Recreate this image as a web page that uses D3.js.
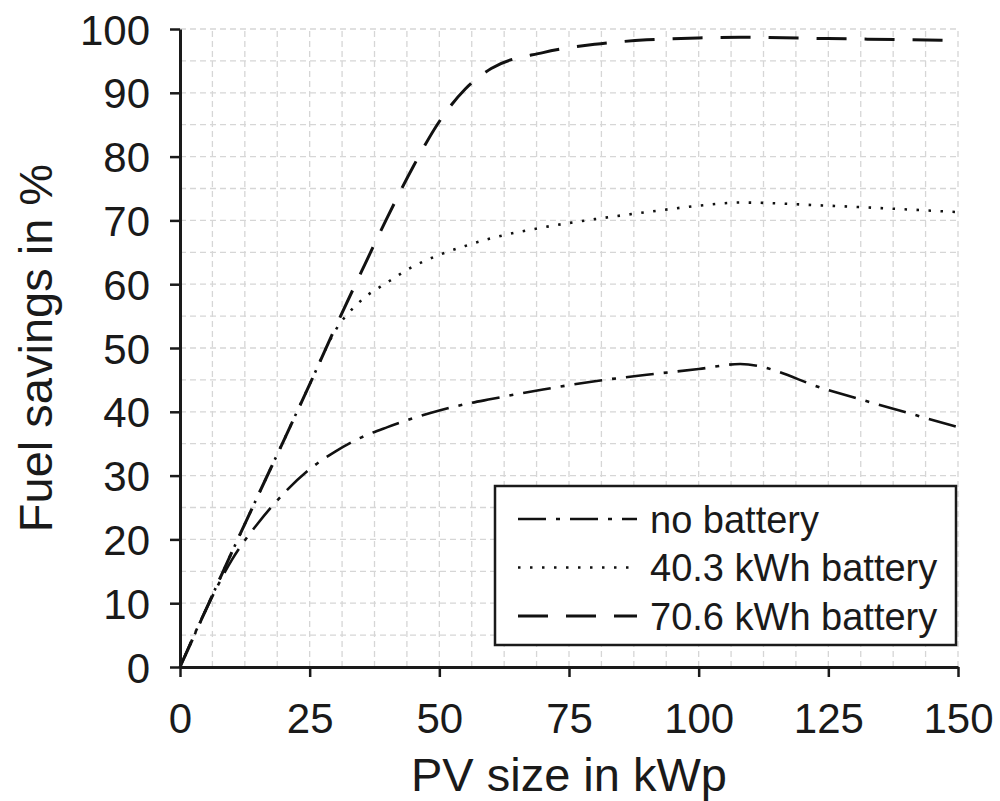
<!DOCTYPE html>
<html>
<head>
<meta charset="utf-8">
<script src="https://cdn.jsdelivr.net/npm/d3@7"></script>
<style>
  body { margin: 0; background: #fff; }
  text { font-family: "Liberation Sans", Arial, sans-serif; fill: #1a1a1a; }
</style>
</head>
<body>
<svg width="1000" height="801"></svg>
<script>
// PV size in kWp
var pvSize = [0, 5, 10, 15, 20, 25, 30, 35, 40, 45, 50, 55, 60, 70, 80, 90, 100, 108, 125, 150];

// fuel savings in %
var noBattery =  [0, 9, 16.8, 22.5, 27.2, 31, 33.8, 36, 37.6, 39, 40.2, 41.2, 42, 43.5, 44.8, 45.8, 46.7, 47.5, 43.4, 37.6];
var battery403 = [0, 9, 18, 26.8, 35.5, 44.3, 52.8, 57.5, 60.3, 62.8, 64.6, 66, 67.2, 68.9, 70.2, 71.3, 72.3, 72.8, 72.3, 71.3];
var battery706 = [0, 9, 18, 26.8, 35.5, 44.3, 53.3, 62, 70.5, 78.5, 85.5, 90.6, 93.8, 96.3, 97.6, 98.3, 98.6, 98.7, 98.5, 98.2];

var seriesNames = ["no battery", "40.3 kWh battery", "70.6 kWh battery"];
var xTicks = [0, 25, 50, 75, 100, 125, 150];
var yTicks = [0, 10, 20, 30, 40, 50, 60, 70, 80, 90, 100];

var svg = d3.select("svg"),
    plotLeft = 180, plotRight = 958, plotTop = 29, plotBottom = 667;

var x = d3.scaleLinear().domain([0, 150]).range([plotLeft, plotRight]),
    y = d3.scaleLinear().domain([0, 100]).range([plotBottom, plotTop]);

var series = [
  {name: seriesNames[0], values: noBattery,  dash: "28,10,4,10", width: 2.6},
  {name: seriesNames[1], values: battery403, dash: "2.5,9.5",    width: 2.6},
  {name: seriesNames[2], values: battery706, dash: "30,18",      width: 3}
];

// grid
var grid = svg.append("g").attr("stroke", "#d6d6d6").attr("stroke-width", 1.3)
    .attr("stroke-dasharray", "6,4");
grid.selectAll(".gx").data(d3.range(6.25, 150.1, 6.25)).enter().append("line")
    .attr("x1", function(d) { return x(d); }).attr("x2", function(d) { return x(d); })
    .attr("y1", y(0)).attr("y2", y(100));
grid.selectAll(".gy").data(d3.range(5, 100.1, 5)).enter().append("line")
    .attr("y1", function(d) { return y(d); }).attr("y2", function(d) { return y(d); })
    .attr("x1", x(0)).attr("x2", x(150));

var line = d3.line()
    .curve(d3.curveMonotoneX)
    .x(function(d, i) { return x(pvSize[i]); })
    .y(function(d) { return y(d); });

svg.selectAll(".series").data(series).enter().append("path")
    .attr("fill", "none")
    .attr("stroke", "#111")
    .attr("stroke-width", function(d) { return d.width; })
    .attr("stroke-dasharray", function(d) { return d.dash; })
    .attr("d", function(d) { return line(d.values); });

// axes
var yAxis = svg.append("g")
    .attr("transform", "translate(" + plotLeft + ",0)")
    .call(d3.axisLeft(y).tickValues(yTicks).tickSize(10).tickPadding(20).tickSizeOuter(0));
var xAxis = svg.append("g")
    .attr("transform", "translate(0," + plotBottom + ")")
    .call(d3.axisBottom(x).tickValues(xTicks).tickSize(10).tickPadding(26).tickSizeOuter(0));

[xAxis, yAxis].forEach(function(a) {
  a.select(".domain").attr("stroke", "#1a1a1a").attr("stroke-width", 3);
  a.selectAll(".tick line").attr("stroke", "#1a1a1a").attr("stroke-width", 2.5);
  a.selectAll(".tick text").style("font-size", "42px").attr("fill", "#1a1a1a");
});
yAxis.selectAll(".tick text").attr("dy", "0.36em");

svg.append("text")
    .attr("transform", "translate(52," + ((plotTop + plotBottom) / 2) + ") rotate(-90)")
    .attr("text-anchor", "middle")
    .style("font-size", "47px")
    .text("Fuel savings in %");

svg.append("text")
    .attr("x", (plotLeft + plotRight) / 2)
    .attr("y", 791)
    .attr("text-anchor", "middle")
    .style("font-size", "47px")
    .text("PV size in kWp");

// legend
var legend = svg.append("g").attr("transform", "translate(495,486)");
legend.append("rect")
    .attr("width", 461).attr("height", 159)
    .attr("fill", "#fff").attr("stroke", "#1a1a1a").attr("stroke-width", 2.5);

var item = legend.selectAll(".item").data(series).enter().append("g")
    .attr("transform", function(d, i) { return "translate(0," + (33 + i * 48.5) + ")"; });
item.append("line")
    .attr("x1", 23).attr("x2", 142)
    .attr("stroke", "#111")
    .attr("stroke-width", function(d) { return d.width; })
    .attr("stroke-dasharray", function(d) { return d.dash; });
item.append("text")
    .attr("x", 155).attr("dy", "0.36em")
    .style("font-size", "38px")
    .text(function(d) { return d.name; });
</script>
</body>
</html>
